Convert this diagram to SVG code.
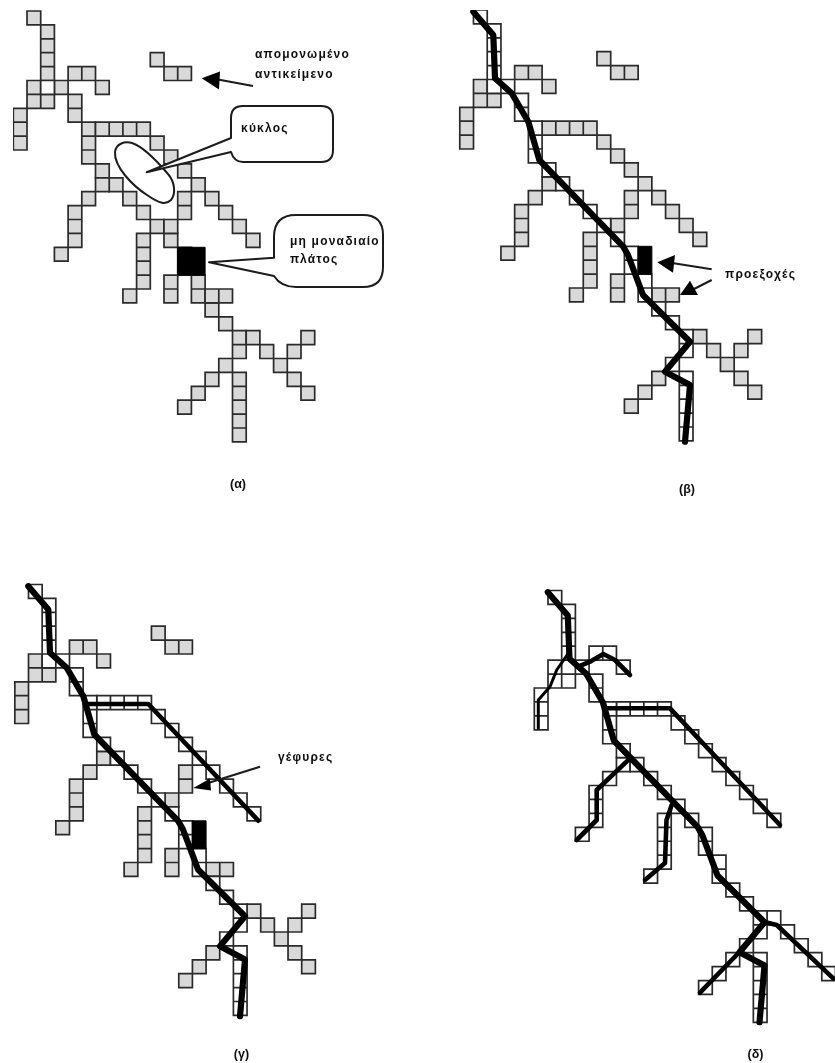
<svg xmlns="http://www.w3.org/2000/svg" width="835" height="1063" viewBox="0 0 835 1063">
<style>
.cells path,.cellu{vector-effect:non-scaling-stroke}
.cellu{stroke:#2b2b2b;stroke-width:1.7}
.g{fill:#d9d9d9}.w{fill:#fff}.k{fill:#000;stroke:#000;stroke-width:1;vector-effect:non-scaling-stroke}
.o{fill:none;stroke:#000;stroke-linejoin:round;stroke-linecap:round}
.m{stroke-width:6.2}.b{stroke-width:4.6}.t{stroke-width:3}
.c{fill:#fff;stroke:#1c1c1c;stroke-width:2;stroke-linejoin:round}
.a{fill:none;stroke:#1a1a1a;stroke-width:2}.h{fill:#000}
text{font-family:"Liberation Sans",Arial,sans-serif;font-weight:700;font-size:12px;fill:#111}
.l{letter-spacing:1.2px}.p{text-anchor:middle;font-size:12.5px}
</style>
<defs>
<filter id="soft" x="0" y="0" width="100%" height="100%"><feGaussianBlur stdDeviation="0.45"/></filter>
<path id="P" class="cellu" d="M0 0h1v1h-1zM1 1h1v1h-1zM1 2h1v1h-1zM1 3h1v1h-1zM1 4h1v1h-1zM1 5h1v1h-1zM2 5h1v1h-1zM3 6h1v1h-1zM3 7h1v1h-1zM4 8h1v1h-1zM4 9h1v1h-1zM4 10h1v1h-1zM5 11h1v1h-1zM6 12h1v1h-1zM7 13h1v1h-1zM8 14h1v1h-1zM9 15h1v1h-1zM10 16h1v1h-1zM11 17h1v1h-1zM11 18h1v1h-1zM12 19h1v1h-1zM12 20h1v1h-1zM13 21h1v1h-1zM14 22h1v1h-1zM15 23h1v1h-1zM15 24h1v1h-1zM14 25h1v1h-1zM15 26h1v1h-1zM15 27h1v1h-1zM15 28h1v1h-1zM15 29h1v1h-1zM15 30h1v1h-1z"/>
<path id="B" class="cellu" d="M5 8h1v1h-1zM6 8h1v1h-1zM7 8h1v1h-1zM8 8h1v1h-1zM9 9h1v1h-1zM10 10h1v1h-1zM11 11h1v1h-1zM12 12h1v1h-1zM13 13h1v1h-1zM14 14h1v1h-1zM15 15h1v1h-1zM16 16h1v1h-1z"/>
<path id="G" class="cellu" d="M3 4h1v1h-1zM4 4h1v1h-1zM0 5h1v1h-1zM5 5h1v1h-1zM0 6h1v1h-1zM1 6h1v1h-1zM-1 7h1v1h-1zM-1 8h1v1h-1zM-1 9h1v1h-1zM5 12h1v1h-1zM4 13h1v1h-1zM3 14h1v1h-1zM3 15h1v1h-1zM3 16h1v1h-1zM2 17h1v1h-1zM8 16h1v1h-1zM8 17h1v1h-1zM8 18h1v1h-1zM8 19h1v1h-1zM7 20h1v1h-1zM16 23h1v1h-1zM17 24h1v1h-1zM18 25h1v1h-1zM19 26h1v1h-1zM20 27h1v1h-1zM13 26h1v1h-1zM12 27h1v1h-1zM11 28h1v1h-1z"/>
<path id="R" class="cellu" d="M9 3h1v1h-1zM10 4h1v1h-1zM11 4h1v1h-1zM11 13h1v1h-1zM11 14h1v1h-1zM10 15h1v1h-1zM10 19h1v1h-1zM10 20h1v1h-1zM13 20h1v1h-1zM14 20h1v1h-1zM20 23h1v1h-1zM19 24h1v1h-1z"/>
<polyline id="main" class="o m" points="473.3,11.7 493.3,35 495,78.3 511.7,93.3 528.3,121.7 539.3,160 623.3,246.7 628,255 643,295 690,341.7 665,371.7 690,385 685,441.7"/>
</defs>
<rect width="835" height="1063" fill="#fff"/>
<g filter="url(#soft)">
<g id="panel-a">
<g class="cells" transform="translate(27,11) scale(13.7,13.9)">
<use href="#P" class="g"/><use href="#B" class="g"/><use href="#G" class="g"/><use href="#R" class="g"/>
<path class="cellu w" d="M1 5h1v1h-1z"/>
<rect class="k" x="11" y="17" width="2" height="2"/>
</g>
<path id="blob" class="c" d="M115 152C116 144 124 141 132 143C144 147 157 161 168 174C175 182 176 194 171 200C166 205 160 204 147 195C133 186 114 167 115 152Z"/>
<path id="callout-kyklos" class="c" d="M231 138V118Q231 106 243 106H321Q333 106 333 118V150Q333 162 321 162H243Q234 162 231 152L146.7 172.3Z"/>
<path id="callout-platos" class="c" d="M274 257.7V237Q274 215 296 215H363Q383 215 383 235V267Q383 287 363 287H296Q281 287 274 276L209 262.3Z"/>
<path class="a" d="M253 86L218 79.5"/><path class="h" d="M201.7 78.3L220 71.5L219 89.5Z"/>
<text class="l" x="255" y="58">απομονωμένο</text>
<text class="l" x="255" y="78">αντικείμενο</text>
<text class="l" x="241" y="131.5">κύκλος</text>
<text class="l" x="290" y="245">μη μοναδιαίο</text>
<text class="l" x="290" y="263">πλάτος</text>
<text class="p" x="238" y="488">(α)</text>
</g>
<g id="panel-b">
<g class="cells" transform="translate(473.5,10) scale(13.72,13.9)">
<use href="#B" class="g"/><use href="#G" class="g"/><use href="#R" class="g"/><use href="#P" class="w"/>
<rect class="k" x="12" y="17" width="1" height="2"/>
</g>
<use href="#main"/>
<path class="a" d="M711.7 269.3L672 263"/><path class="h" d="M657.3 262.3L675 255L673 272.7Z"/>
<path class="a" d="M711.7 280L694 289"/><path class="h" d="M680 295L690 280.7L698 295Z"/>
<text class="l" x="725" y="277.5">προεξοχές</text>
<text class="p" x="687" y="493">(β)</text>
</g>
<g id="panel-c">
<g class="cells" transform="translate(28.5,584.5) scale(13.66,13.9)">
<use href="#G" class="g"/><use href="#R" class="g"/><use href="#B" class="w"/><use href="#P" class="w"/>
<rect class="k" x="12" y="17" width="1" height="2"/>
</g>
<use href="#main" transform="translate(-445,574.5)"/>
<polyline class="o b" points="85,704 148.3,704 258.3,820.7"/>
<path class="a" d="M260 766.7L205 784"/><path class="h" d="M193.3 788L210 778.5L211 790.5Z"/>
<text class="l" x="278" y="761">γέφυρες</text>
<text class="p" x="241.5" y="1058">(γ)</text>
</g>
<g id="panel-d">
<g class="cells" transform="translate(548,590.5) scale(13.69,13.93)">
<use href="#G" class="w"/><use href="#B" class="w"/><use href="#P" class="w"/>
</g>
<use href="#main" transform="translate(74.5,580.5)"/>
<polyline class="o t" points="568.3,653.3 556.7,670 550,686.7 538.3,700 538.3,728.3"/>
<polyline class="o b" points="578.3,666.7 590,661.7 603.3,654 615,660 630,675"/>
<polyline class="o b" points="605,708.3 670,708.3 780,825"/>
<polyline class="o b" points="630,758.3 596.7,790 596.7,820 576.7,840"/>
<polyline class="o b" points="671.7,805 666.5,820 665,863 645,880"/>
<polyline class="o b" points="739.5,952 700,992.7"/>
<polyline class="o b" points="763.3,921.7 776.7,925 833.3,978.3"/>
<text class="p" x="755.5" y="1058">(δ)</text>
</g>
</g>
</svg>
